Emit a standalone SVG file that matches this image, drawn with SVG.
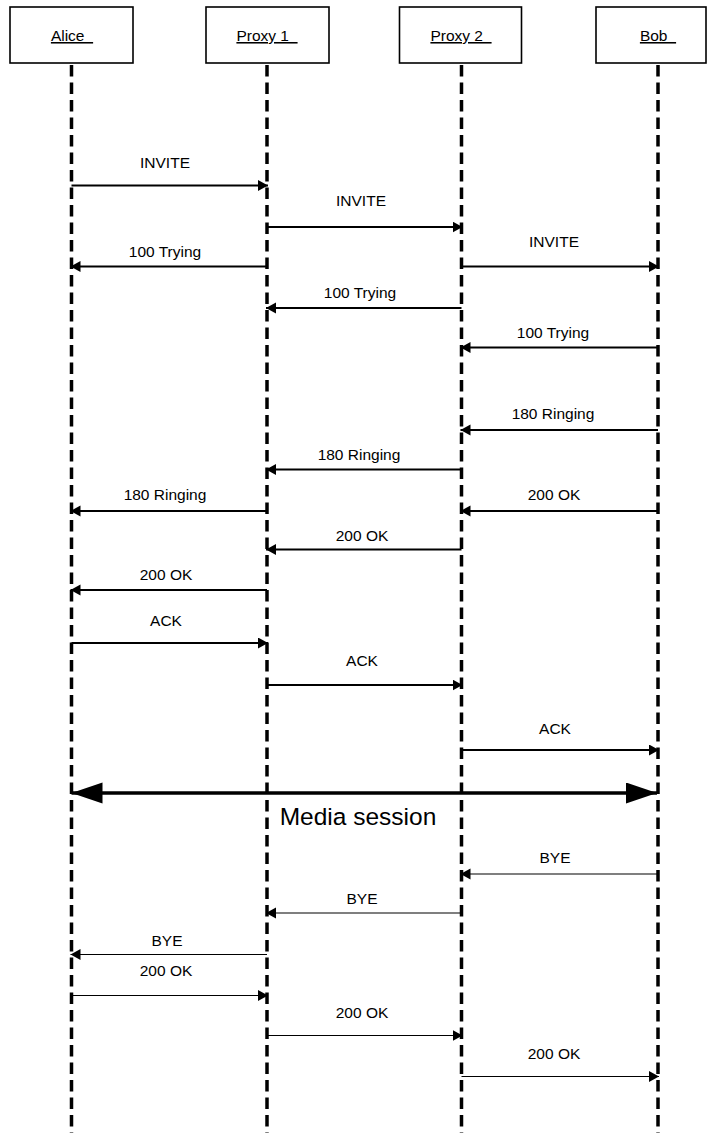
<svg xmlns="http://www.w3.org/2000/svg" width="707" height="1133" viewBox="0 0 707 1133">
<style>
.box{fill:#fff;stroke:#000;stroke-width:1.6}
.life{stroke:#000;stroke-width:3.5;stroke-dasharray:11.5 6;fill:none}
.name{font-family:"Liberation Sans",Arial,sans-serif;font-size:15.5px;text-anchor:middle;text-decoration:underline;fill:#000}
.lbl{font-family:"Liberation Sans",Arial,sans-serif;font-size:15.5px;text-anchor:middle;fill:#000}
.msg{stroke:#000;stroke-width:2;fill:none;marker-end:url(#ah)}
.thin{stroke:#000;stroke-width:1.2;fill:none;marker-end:url(#ah)}
.media{stroke:#000;stroke-width:3.3;fill:none;marker-start:url(#bigs);marker-end:url(#big)}
.big{font-family:"Liberation Sans",Arial,sans-serif;font-size:24.5px;text-anchor:middle;fill:#000}
</style>
<defs>
<marker id="ah" markerUnits="userSpaceOnUse" markerWidth="11" markerHeight="12" refX="10" refY="5.5" orient="auto" viewBox="0 0 11 12">
<path d="M0,0 L10,5.5 L0,11 z" fill="#000"/>
</marker>
<marker id="big" markerUnits="userSpaceOnUse" markerWidth="32" markerHeight="22" refX="31" refY="10.5" orient="auto" viewBox="0 0 32 22">
<path d="M0,0 L31,10.5 L0,21 z" fill="#000"/>
</marker>
<marker id="bigs" markerUnits="userSpaceOnUse" markerWidth="32" markerHeight="22" refX="31" refY="10.5" orient="auto-start-reverse" viewBox="0 0 32 22">
<path d="M0,0 L31,10.5 L0,21 z" fill="#000"/>
</marker>
</defs>
<g id="alice">
<rect class="box" x="10" y="7" width="123" height="56"/>
<text class="name" x="72" y="41" xml:space="preserve">Alice  </text>
<line class="life" x1="71.5" y1="65" x2="71.5" y2="1133"/>
</g>
<g id="proxy1">
<rect class="box" x="206" y="7" width="123" height="56"/>
<text class="name" x="267" y="41" xml:space="preserve">Proxy 1  </text>
<line class="life" x1="267" y1="65" x2="267" y2="1133"/>
</g>
<g id="proxy2">
<rect class="box" x="399.5" y="7" width="122" height="56"/>
<text class="name" x="461" y="41" xml:space="preserve">Proxy 2  </text>
<line class="life" x1="461.5" y1="65" x2="461.5" y2="1133"/>
</g>
<g id="bob">
<rect class="box" x="596" y="7" width="110" height="56"/>
<text class="name" x="658" y="41" xml:space="preserve">Bob  </text>
<line class="life" x1="658" y1="65" x2="658" y2="1133"/>
</g>
<g id="connectors">
<line class="msg" x1="71.5" y1="185.5" x2="268" y2="185.5"/>
<line class="msg" x1="267" y1="227" x2="462.5" y2="227"/>
<line class="msg" x1="267" y1="266.5" x2="70.5" y2="266.5"/>
<line class="msg" x1="461.5" y1="266.5" x2="659" y2="266.5"/>
<line class="msg" x1="461.5" y1="308" x2="266" y2="308"/>
<line class="msg" x1="658" y1="347.5" x2="460.5" y2="347.5"/>
<line class="msg" x1="658" y1="430" x2="460.5" y2="430"/>
<line class="msg" x1="461.5" y1="469.5" x2="266" y2="469.5"/>
<line class="msg" x1="267" y1="511" x2="70.5" y2="511"/>
<line class="msg" x1="658" y1="511" x2="460.5" y2="511"/>
<line class="msg" x1="461.5" y1="549.5" x2="266" y2="549.5"/>
<line class="msg" x1="267" y1="590" x2="70.5" y2="590"/>
<line class="msg" x1="71.5" y1="643" x2="268" y2="643"/>
<line class="msg" x1="267" y1="685" x2="462.5" y2="685"/>
<line class="msg" x1="461.5" y1="750" x2="659" y2="750"/>
<line class="media" x1="71.5" y1="793" x2="657" y2="793"/>
<line class="thin" x1="658" y1="874" x2="460.5" y2="874"/>
<line class="thin" x1="461.5" y1="913" x2="266" y2="913"/>
<line class="thin" x1="267" y1="954.5" x2="70.5" y2="954.5"/>
<line class="thin" x1="71.5" y1="995.5" x2="268" y2="995.5"/>
<line class="thin" x1="267" y1="1035.5" x2="462.5" y2="1035.5"/>
<line class="thin" x1="461.5" y1="1076.5" x2="659" y2="1076.5"/>
</g>
<g id="labels">
<text class="lbl" x="165" y="168">INVITE</text>
<text class="lbl" x="361" y="206">INVITE</text>
<text class="lbl" x="165" y="257">100 Trying</text>
<text class="lbl" x="554" y="247">INVITE</text>
<text class="lbl" x="360" y="298">100 Trying</text>
<text class="lbl" x="553" y="338">100 Trying</text>
<text class="lbl" x="553" y="419">180 Ringing</text>
<text class="lbl" x="359" y="460">180 Ringing</text>
<text class="lbl" x="165" y="500">180 Ringing</text>
<text class="lbl" x="554" y="500">200 OK</text>
<text class="lbl" x="362" y="541">200 OK</text>
<text class="lbl" x="166" y="580">200 OK</text>
<text class="lbl" x="166" y="626">ACK</text>
<text class="lbl" x="362" y="666">ACK</text>
<text class="lbl" x="555" y="734">ACK</text>
<text class="big" x="358" y="825">Media session</text>
<text class="lbl" x="555" y="863">BYE</text>
<text class="lbl" x="362" y="904">BYE</text>
<text class="lbl" x="167" y="946">BYE</text>
<text class="lbl" x="166" y="976">200 OK</text>
<text class="lbl" x="362" y="1018">200 OK</text>
<text class="lbl" x="554" y="1059">200 OK</text>
</g>
</svg>
